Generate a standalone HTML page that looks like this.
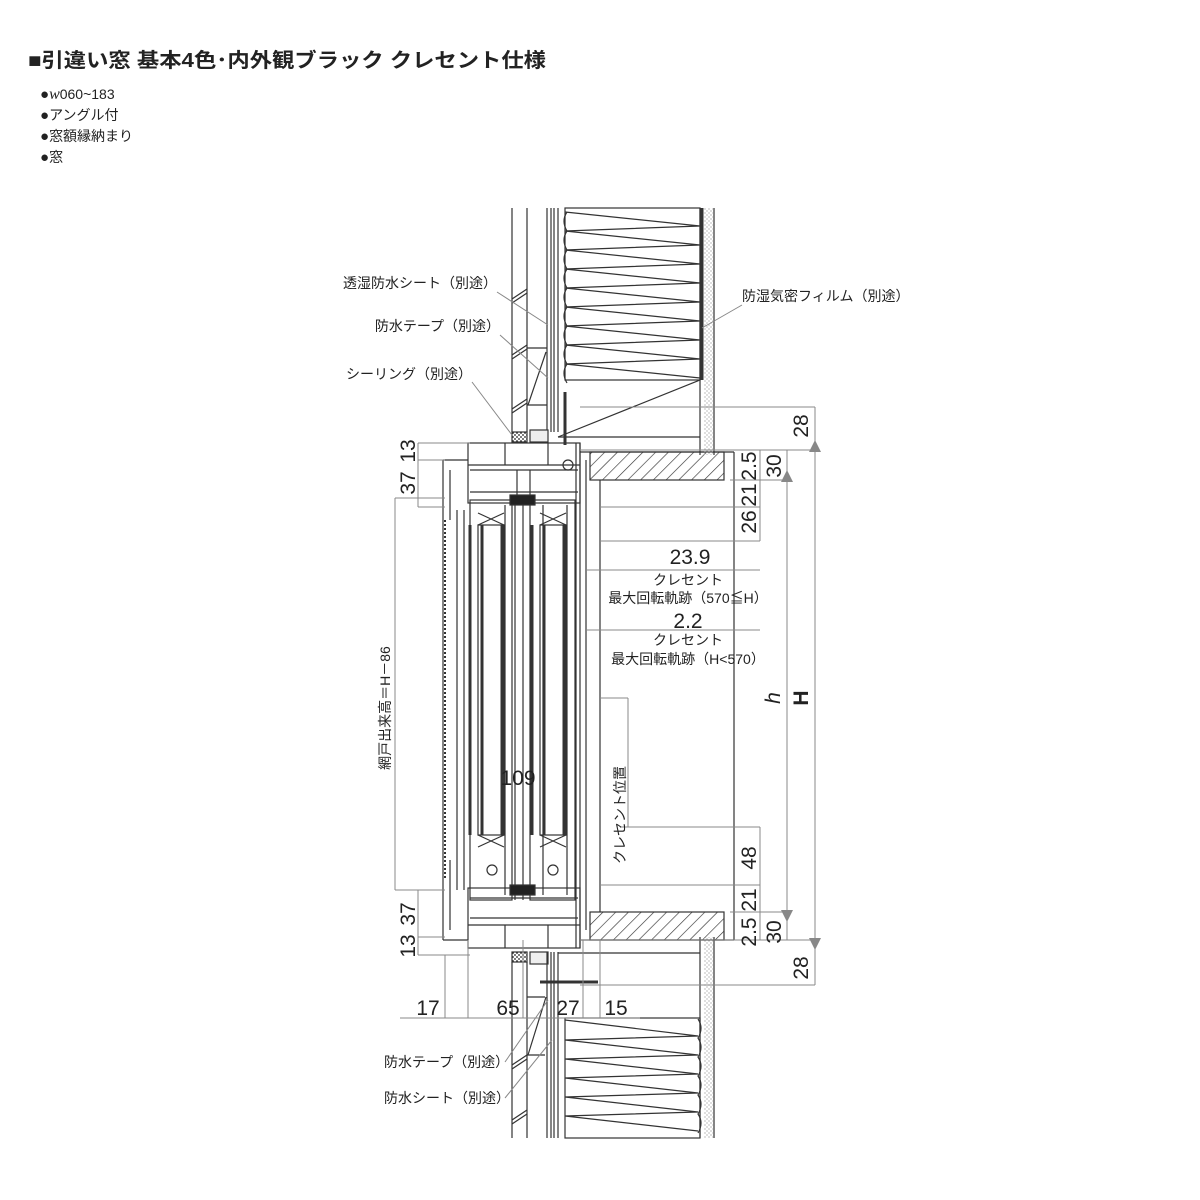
<!DOCTYPE html>
<html><head><meta charset="utf-8"><style>
body{margin:0;background:#fff;width:1200px;height:1200px;overflow:hidden}
svg{display:block}
text{font-family:"Liberation Sans","Noto Sans CJK JP",sans-serif;fill:#222}
</style></head><body>
<svg width="1200" height="1200" viewBox="0 0 1200 1200" xmlns="http://www.w3.org/2000/svg">
<defs>
<pattern id="hatch" width="9" height="9" patternUnits="userSpaceOnUse" patternTransform="rotate(45)"><line x1="0" y1="0" x2="0" y2="9" stroke="#333" stroke-width="1.3"/></pattern>
<pattern id="dots" width="4" height="4" patternUnits="userSpaceOnUse"><rect width="4" height="4" fill="#fff"/><circle cx="1" cy="1" r="0.9" fill="#222"/><circle cx="3" cy="3" r="0.9" fill="#222"/></pattern>
</defs>
<text x="28" y="67" font-size="20" font-weight="bold" textLength="518" lengthAdjust="spacingAndGlyphs">■引違い窓 基本4色･内外観ブラック クレセント仕様</text>
<g font-size="14">
<text x="40" y="99"><tspan font-size="15">●</tspan><tspan font-style="italic" font-family="Liberation Serif" font-size="16">w</tspan>060~183</text>
<text x="40" y="120"><tspan font-size="15">●</tspan>アングル付</text>
<text x="40" y="141"><tspan font-size="15">●</tspan>窓額縁納まり</text>
<text x="40" y="162"><tspan font-size="15">●</tspan>窓</text>
</g>
<g stroke="#333" stroke-width="1.2" fill="none">
<line x1="512" y1="208" x2="512" y2="432"/><line x1="527" y1="208" x2="527" y2="432"/>
<line x1="547" y1="208" x2="547" y2="432"/><line x1="551" y1="208" x2="551" y2="432"/>
<line x1="554" y1="208" x2="554" y2="432"/><line x1="558" y1="208" x2="558" y2="432"/>
<line x1="512" y1="299" x2="527" y2="289"/><line x1="512" y1="303" x2="527" y2="293"/>
<line x1="512" y1="355" x2="527" y2="345"/><line x1="512" y1="359" x2="527" y2="349"/>
<line x1="512" y1="409" x2="527" y2="399"/><line x1="512" y1="413" x2="527" y2="403"/>
<line x1="527" y1="348" x2="547" y2="348"/><line x1="527" y1="405" x2="547" y2="405"/>
<line x1="528" y1="405" x2="546" y2="352"/>
<rect x="565" y="208" width="135" height="172"/>
<path d="M565 212 L700 226 L565 231 L700 245 L565 250 L700 264 L565 269 L700 283 L565 288 L700 302 L565 307 L700 321 L565 326 L700 340 L565 345 L700 359 L565 364 L700 378"/>
<path d="M567 212 q-6 9 0 19 q-6 9 0 19 q-6 9 0 19 q-6 9 0 19 q-6 9 0 19 q-6 9 0 19 q-6 9 0 19 q-6 9 0 19 q-6 9 0 19"/>
<line x1="558" y1="437" x2="700" y2="380"/>
<line x1="558" y1="437" x2="700" y2="437"/>
<line x1="700" y1="208" x2="700" y2="455"/><line x1="714" y1="208" x2="714" y2="455"/>
<line x1="700" y1="937" x2="700" y2="1138"/><line x1="714" y1="937" x2="714" y2="1138"/>
<line x1="702" y1="208" x2="702" y2="380" stroke-width="3"/>
<rect x="590" y="452" width="134" height="28" fill="url(#hatch)"/>
<rect x="590" y="912" width="134" height="28" fill="url(#hatch)"/>
<line x1="600" y1="480" x2="600" y2="912"/>
<line x1="734" y1="452" x2="734" y2="940"/>
<line x1="580" y1="452" x2="734" y2="452"/>
<line x1="580" y1="940" x2="734" y2="940"/>
<!-- window frame head -->
<rect x="468" y="443" width="112" height="60"/>
<rect x="468" y="888" width="112" height="60"/>
<line x1="468" y1="465" x2="580" y2="465"/><line x1="468" y1="925" x2="580" y2="925"/>
<line x1="470" y1="470" x2="578" y2="470"/><line x1="470" y1="492" x2="578" y2="492"/>
<line x1="470" y1="898" x2="578" y2="898"/><line x1="470" y1="918" x2="578" y2="918"/>
<line x1="505" y1="443" x2="505" y2="465"/><line x1="548" y1="443" x2="548" y2="465"/>
<line x1="505" y1="925" x2="505" y2="948"/><line x1="548" y1="925" x2="548" y2="948"/>
<line x1="517" y1="470" x2="517" y2="500"/><line x1="530" y1="470" x2="530" y2="500"/>
<line x1="443" y1="460" x2="468" y2="460"/><line x1="443" y1="460" x2="443" y2="940"/>
<line x1="443" y1="940" x2="468" y2="940"/>
<line x1="450" y1="470" x2="450" y2="520"/><line x1="450" y1="860" x2="450" y2="930"/>
<line x1="580" y1="443" x2="580" y2="948"/><line x1="576" y1="443" x2="576" y2="948"/>
<line x1="586" y1="460" x2="586" y2="930"/>
<rect x="470" y="500" width="42" height="400"/>
<rect x="530" y="500" width="45" height="400"/>
<rect x="478" y="525" width="26" height="310"/>
<rect x="540" y="525" width="26" height="310"/>
<line x1="457" y1="510" x2="457" y2="890"/><line x1="464" y1="510" x2="464" y2="890"/>
<line x1="515" y1="500" x2="515" y2="900"/><line x1="523" y1="500" x2="523" y2="900"/>
<line x1="505" y1="505" x2="505" y2="895"/><line x1="543" y1="505" x2="543" y2="895"/>
<line x1="567" y1="505" x2="567" y2="895"/>
<line x1="445" y1="520" x2="445" y2="880" stroke-dasharray="2 2" stroke-width="2"/>
<line x1="482" y1="525" x2="482" y2="835" stroke-width="3"/><line x1="502" y1="525" x2="502" y2="835" stroke-width="3"/>
<line x1="544" y1="525" x2="544" y2="835" stroke-width="3"/><line x1="564" y1="525" x2="564" y2="835" stroke-width="3"/>
<line x1="470" y1="525" x2="470" y2="835" stroke-width="3"/><line x1="532" y1="525" x2="532" y2="835" stroke-width="3"/>
<path d="M478 525 l26 -12 M478 513 l26 12 M540 525 l26 -12 M540 513 l26 12 M478 835 l26 12 M478 847 l26 -12 M540 835 l26 12 M540 847 l26 -12"/>
<rect x="510" y="495" width="25" height="10" fill="#222"/>
<rect x="510" y="885" width="25" height="10" fill="#222"/>
<circle cx="492" cy="870" r="5"/><circle cx="553" cy="870" r="5"/>
<circle cx="568" cy="465" r="5"/>
<rect x="512" y="432" width="15" height="10" fill="url(#dots)"/>
<rect x="530" y="430" width="18" height="12" fill="#eee"/>
<rect x="512" y="952" width="15" height="10" fill="url(#dots)"/>
<rect x="530" y="952" width="18" height="12" fill="#eee"/>
<line x1="565" y1="392" x2="565" y2="445" stroke-width="3"/>
<line x1="540" y1="982" x2="598" y2="982" stroke-width="3"/>
<line x1="512" y1="962" x2="512" y2="1138"/><line x1="527" y1="962" x2="527" y2="1138"/>
<line x1="547" y1="952" x2="547" y2="1138"/><line x1="551" y1="952" x2="551" y2="1138"/>
<line x1="554" y1="952" x2="554" y2="1138"/><line x1="558" y1="952" x2="558" y2="1138"/>
<line x1="512" y1="1065" x2="527" y2="1055"/><line x1="512" y1="1069" x2="527" y2="1059"/>
<line x1="512" y1="1120" x2="527" y2="1110"/><line x1="512" y1="1124" x2="527" y2="1114"/>
<line x1="527" y1="997" x2="545" y2="997"/><line x1="527" y1="1055" x2="545" y2="1055"/>
<line x1="528" y1="1055" x2="546" y2="997"/>
<line x1="558" y1="953" x2="700" y2="953"/>
<rect x="565" y="1018" width="135" height="120"/>
<path d="M565 1020 L698 1036 L565 1040 L698 1055 L565 1059 L698 1074 L565 1078 L698 1093 L565 1097 L698 1112 L565 1116 L698 1131"/>
<path d="M698 1019 q6 9 0 19 q6 9 0 19 q6 9 0 19 q6 9 0 19 q6 9 0 19 q6 9 0 19"/>
</g>
<rect x="704" y="208" width="9" height="247" fill="url(#dots)" opacity="0.25"/>
<rect x="704" y="937" width="9" height="201" fill="url(#dots)" opacity="0.25"/>
<g stroke="#888" stroke-width="1" fill="none">
<line x1="497" y1="292" x2="548" y2="325"/>
<line x1="500" y1="335" x2="548" y2="378"/>
<line x1="472" y1="382" x2="512" y2="435"/>
<line x1="742" y1="305" x2="702" y2="328"/>
<line x1="505" y1="1062" x2="548" y2="1000"/>
<line x1="505" y1="1098" x2="552" y2="1040"/>
<line x1="418" y1="443" x2="470" y2="443"/><line x1="418" y1="460" x2="445" y2="460"/>
<line x1="418" y1="507" x2="445" y2="507"/><line x1="418" y1="443" x2="418" y2="507"/>
<line x1="395" y1="498" x2="445" y2="498"/><line x1="395" y1="498" x2="395" y2="890"/>
<line x1="395" y1="890" x2="445" y2="890"/>
<line x1="418" y1="890" x2="418" y2="955"/><line x1="418" y1="937" x2="445" y2="937"/><line x1="418" y1="955" x2="470" y2="955"/>
<line x1="445" y1="955" x2="445" y2="1018"/><line x1="468" y1="940" x2="468" y2="1018"/>
<line x1="523" y1="940" x2="523" y2="1018"/><line x1="583" y1="940" x2="583" y2="1018"/><line x1="600" y1="940" x2="600" y2="1018"/>
<line x1="400" y1="1018" x2="640" y2="1018"/>
<line x1="580" y1="407" x2="815" y2="407"/><line x1="580" y1="450" x2="815" y2="450"/>
<line x1="730" y1="480" x2="787" y2="480"/><line x1="600" y1="507" x2="760" y2="507"/>
<line x1="600" y1="541" x2="760" y2="541"/>
<line x1="587" y1="570" x2="760" y2="570"/><line x1="587" y1="630" x2="760" y2="630"/>
<line x1="760" y1="450" x2="760" y2="541"/>
<line x1="760" y1="827" x2="760" y2="940"/>
<line x1="620" y1="827" x2="760" y2="827"/><line x1="600" y1="885" x2="760" y2="885"/>
<line x1="730" y1="912" x2="787" y2="912"/><line x1="580" y1="940" x2="815" y2="940"/>
<line x1="580" y1="985" x2="815" y2="985"/>
<line x1="787" y1="450" x2="787" y2="940"/>
<line x1="815" y1="407" x2="815" y2="985"/>
<line x1="628" y1="698" x2="628" y2="827"/><line x1="600" y1="698" x2="628" y2="698"/>
</g>
<g fill="#888">
<path d="M787 470 l-6 12 h12z"/><path d="M787 922 l-6 -12 h12z"/>
<path d="M815 440 l-6 12 h12z"/><path d="M815 950 l-6 -12 h12z"/>
</g>
<g font-size="14">
<text x="497" y="288" text-anchor="end">透湿防水シート（別途）</text>
<text x="500" y="331" text-anchor="end">防水テープ（別途）</text>
<text x="472" y="379" text-anchor="end">シーリング（別途）</text>
<text x="742" y="301">防湿気密フィルム（別途）</text>
<text x="384" y="1067">防水テープ（別途）</text>
<text x="384" y="1103">防水シート（別途）</text>
<text x="688" y="585" text-anchor="middle">クレセント</text>
<text x="688" y="603" text-anchor="middle">最大回転軌跡（570≦H）</text>
<text x="688" y="645" text-anchor="middle">クレセント</text>
<text x="688" y="664" text-anchor="middle">最大回転軌跡（H&lt;570）</text>
<text transform="translate(390,708) rotate(-90)" text-anchor="middle">網戸出来高＝H－86</text>
<text transform="translate(625,815) rotate(-90)" text-anchor="middle">クレセント位置</text>
</g>
<g font-size="21">
<text x="690" y="564" text-anchor="middle">23.9</text>
<text x="688" y="628" text-anchor="middle">2.2</text>
<text x="518" y="785" text-anchor="middle">109</text>
<text x="428" y="1015" text-anchor="middle">17</text>
<text x="508" y="1015" text-anchor="middle">65</text>
<text x="568" y="1015" text-anchor="middle">27</text>
<text x="616" y="1015" text-anchor="middle">15</text>
<text transform="translate(415,451) rotate(-90)" text-anchor="middle">13</text>
<text transform="translate(415,483) rotate(-90)" text-anchor="middle">37</text>
<text transform="translate(415,914) rotate(-90)" text-anchor="middle">37</text>
<text transform="translate(415,946) rotate(-90)" text-anchor="middle">13</text>
<text transform="translate(808,426) rotate(-90)" text-anchor="middle">28</text>
<text transform="translate(756,466) rotate(-90)" text-anchor="middle">2.5</text>
<text transform="translate(781,466) rotate(-90)" text-anchor="middle">30</text>
<text transform="translate(756,495) rotate(-90)" text-anchor="middle">21</text>
<text transform="translate(756,522) rotate(-90)" text-anchor="middle">26</text>
<text transform="translate(756,858) rotate(-90)" text-anchor="middle">48</text>
<text transform="translate(756,900) rotate(-90)" text-anchor="middle">21</text>
<text transform="translate(756,932) rotate(-90)" text-anchor="middle">2.5</text>
<text transform="translate(781,932) rotate(-90)" text-anchor="middle">30</text>
<text transform="translate(808,968) rotate(-90)" text-anchor="middle">28</text>
<text transform="translate(780,698) rotate(-90)" text-anchor="middle" font-style="italic" font-family="Liberation Serif">h</text>
<text transform="translate(808,698) rotate(-90)" text-anchor="middle" font-weight="bold">H</text>
</g>
</svg>
</body></html>
